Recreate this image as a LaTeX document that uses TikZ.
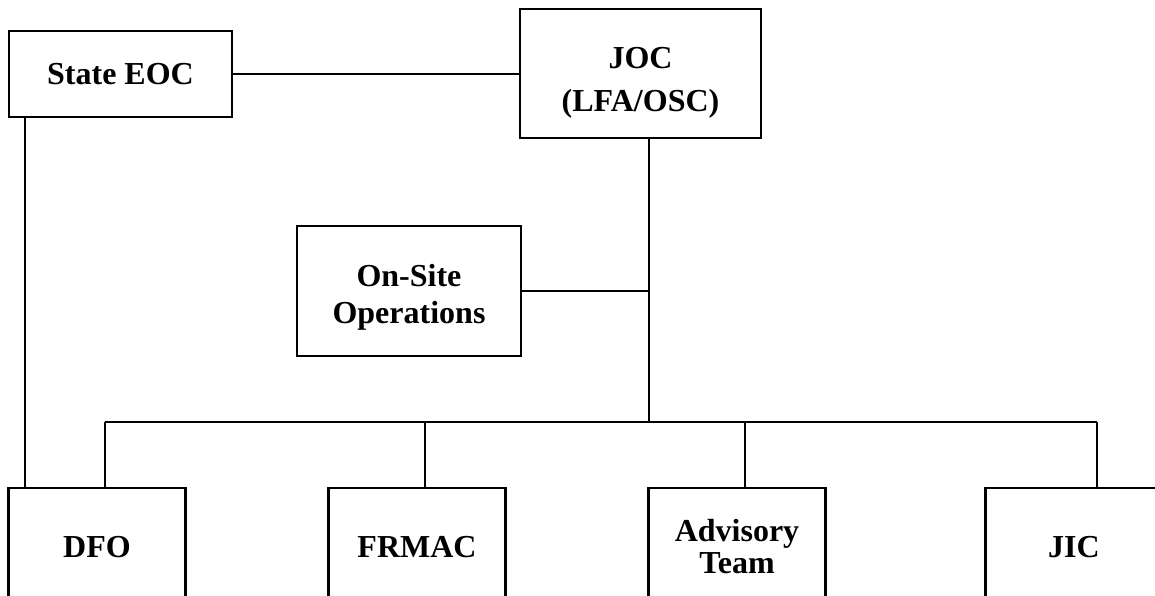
\documentclass[tikz,border=0pt]{standalone}
\usepackage{fontspec}
\setmainfont{Liberation Serif}

\begin{document}
\begin{tikzpicture}[x=1pt,y=-1pt,line width=2.4pt,
  box/.style={draw,inner sep=0pt},
  lbl/.style={align=center,inner sep=0pt,font=\fontsize{32}{37}\selectfont\bfseries}]
\useasboundingbox (0,0) rectangle (1155,595);
\clip (0,0) rectangle (1155,595);
\node[box,lbl,minimum width=223,minimum height=86] (state) at (120.5,74) {State EOC};
\node[box,minimum width=241,minimum height=129] (joc) at (640.5,73.5) {};
\node[lbl] (joctext) at ([yshift=-9pt]joc.center) {JOC\\[6pt](LFA/OSC)};
\node[box,minimum width=224,minimum height=130] (onsite) at (409,291) {};
\node[lbl] (onsitetext) at ([yshift=-6pt]onsite.center) {On-Site\\Operations};
\foreach \n/\x/\t in {dfo/97/DFO,frmac/417/FRMAC,adv/737/{Advisory\\[-5pt]Team},jic/1074/JIC}
	\node[box,lbl,minimum width=177,minimum height=118] (\n) at (\x,547) {\t};
\coordinate (bus) at (649,422);
\coordinate (left) at (25,0);
\draw (state.east) -- (state.east -| joc.west);
\draw (state.south -| left) -- (dfo.north -| left);
\draw (joc.south -| bus) -- (bus);
\draw (onsite.east) -- (onsite.east -| bus);
\foreach \n/\x in {dfo/105,frmac/425,adv/745,jic/1097}{
	\coordinate (d\n) at (\x,422);
	\draw (d\n) -- (d\n |- \n.north);
}
\draw (ddfo) -- (djic);
\end{tikzpicture}
\end{document}
